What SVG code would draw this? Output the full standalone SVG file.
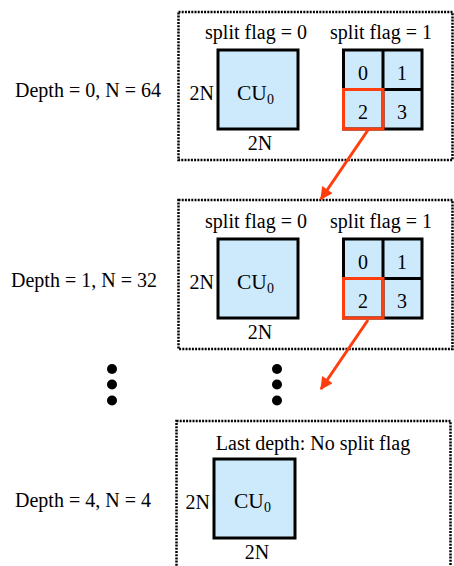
<svg xmlns="http://www.w3.org/2000/svg" width="454" height="566" viewBox="0 0 454 566">
  <defs>
    <style>
      text { font-family: "Liberation Serif", "DejaVu Serif", "Times New Roman", serif; font-size: 20px; fill: #000; }
      .mid { text-anchor: middle; }
      .end { text-anchor: end; }
      .cu-label { font-size: 21.5px; }
      .sub { font-size: 14px; }
      .frame { fill: none; stroke: #000; stroke-width: 2.5; stroke-dasharray: 2 1.2; }
      .cu { fill: #cceafb; stroke: #000; stroke-width: 3; }
      .grid { fill: none; stroke: #000; stroke-width: 3; }
      .sel { fill: none; stroke: #ff3d0d; stroke-width: 3; }
      .link { stroke: #ff3d0d; stroke-width: 3; fill: none; }
      .dot { fill: #000; }
    </style>
    <marker id="arrow" viewBox="0 0 10 10" refX="9" refY="5" markerWidth="4.6" markerHeight="4.2" orient="auto" markerUnits="strokeWidth">
      <path d="M0,0 L10,5 L0,10 z" fill="#ff3d0d"/>
    </marker>
  </defs>

  <g font-family="Liberation Serif, DejaVu Serif, serif">
  <!-- depth labels -->
  <g id="labels">
    <text x="88" y="97" class="mid">Depth = 0, N = 64</text>
    <text x="84" y="287" class="mid">Depth = 1, N = 32</text>
    <text x="83" y="507" class="mid">Depth = 4, N = 4</text>
  </g>

  <!-- depth 0 -->
  <g id="depth0">
    <rect class="frame" x="178.5" y="12" width="274" height="148"/>
    <text x="256" y="39" class="mid">split flag = 0</text>
    <text x="381" y="39" class="mid">split flag = 1</text>
    <rect class="cu" x="218" y="50" width="80" height="79"/>
    <text x="237" y="100" class="cu-label">CU<tspan class="sub" dy="4">0</tspan></text>
    <text x="214" y="100" class="end">2N</text>
    <text x="260" y="150" class="mid">2N</text>
    <rect class="cu" x="343.5" y="50" width="78.5" height="79"/>
    <path class="grid" d="M383,50 V129 M343.5,89.5 H422"/>
    <rect class="sel" x="343.5" y="89.5" width="39.5" height="39.5"/>
    <text x="363" y="80" class="mid">0</text>
    <text x="402" y="80" class="mid">1</text>
    <text x="363" y="119" class="mid">2</text>
    <text x="402" y="119" class="mid">3</text>
  </g>

  <!-- depth 1 -->
  <g id="depth1">
    <rect class="frame" x="178.5" y="200" width="274" height="149"/>
    <text x="256" y="228" class="mid">split flag = 0</text>
    <text x="381" y="228" class="mid">split flag = 1</text>
    <rect class="cu" x="218" y="239" width="80" height="79"/>
    <text x="237" y="289" class="cu-label">CU<tspan class="sub" dy="4">0</tspan></text>
    <text x="214" y="289" class="end">2N</text>
    <text x="260" y="339" class="mid">2N</text>
    <rect class="cu" x="343.5" y="239" width="78.5" height="79"/>
    <path class="grid" d="M383,239 V318 M343.5,278.5 H422"/>
    <rect class="sel" x="343.5" y="278.5" width="39.5" height="39.5"/>
    <text x="363" y="269" class="mid">0</text>
    <text x="402" y="269" class="mid">1</text>
    <text x="363" y="308" class="mid">2</text>
    <text x="402" y="308" class="mid">3</text>
  </g>

  <!-- continuation dots -->
  <g id="ellipsis">
    <circle class="dot" cx="112" cy="369" r="5"/>
    <circle class="dot" cx="112" cy="384.5" r="5"/>
    <circle class="dot" cx="112" cy="400.5" r="5"/>
    <circle class="dot" cx="277" cy="369" r="5"/>
    <circle class="dot" cx="277" cy="384.5" r="5"/>
    <circle class="dot" cx="277" cy="400.5" r="5"/>
  </g>

  <!-- depth 4 (last) -->
  <g id="depth4">
    <rect class="frame" x="176.5" y="421" width="274" height="160"/>
    <text x="313" y="450" class="mid">Last depth: No split flag</text>
    <rect class="cu" x="214" y="459" width="81" height="79"/>
    <text x="234" y="508" class="cu-label">CU<tspan class="sub" dy="4">0</tspan></text>
    <text x="210" y="509" class="end">2N</text>
    <text x="257" y="559" class="mid">2N</text>
  </g>

  <!-- split connectors -->
  <g id="connectors">
    <line class="link" x1="368" y1="130" x2="321" y2="199" marker-end="url(#arrow)"/>
    <line class="link" x1="368" y1="320" x2="321" y2="389" marker-end="url(#arrow)"/>
  </g>
  </g>
</svg>
